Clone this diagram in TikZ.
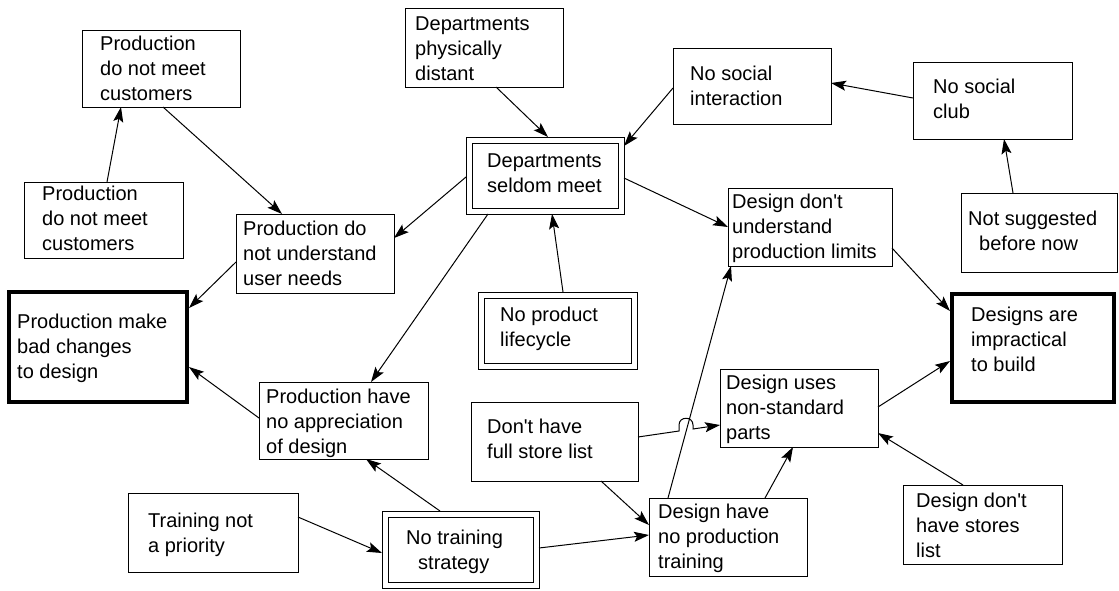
\documentclass[tikz,border=0pt]{standalone}
\usepackage{fontspec}
\setmainfont{Liberation Sans}
\usetikzlibrary{arrows.meta,fit}
% left-aligned multi-line label whose baseline is its first line
\newcommand\mlines[1]{\begin{tabular}[t]{@{}l@{}}#1\end{tabular}}
\newcommand\ap{\textquotesingle}
\begin{document}
\begin{tikzpicture}[x=1pt,y=-1pt,
  box/.style={draw, line width=1pt, inner sep=0pt, outer sep=0pt},
  thickbox/.style={draw, line width=4pt, inner sep=0pt, outer sep=2pt},
  dblbox/.style={draw, line width=1pt, double, double distance=5pt, inner sep=0pt, outer sep=3pt},
  txt/.style={anchor=base west, inner sep=0pt, font=\fontsize{20}{25}\selectfont},
  arr/.style={line width=1pt, -{Stealth[length=15pt,width=10pt,inset=3pt]}}]

\fill[white] (0,0) rectangle (1119,590);
\useasboundingbox (0,0) rectangle (1119,590);

% ---- boxes and their texts ----
\node[box, fit={(82,30)(240,107)}] (pmc1) {};
\node[txt] (pmc1t) at (100,50) {\mlines{Production\\do not meet\\customers}};

\node[box, fit={(24,182)(183,258)}] (pmc2) {};
\node[txt] (pmc2t) at (42,200) {\mlines{Production\\do not meet\\customers}};

\node[box, fit={(236,214)(394,293)}] (pnu) {};
\node[txt] (pnut) at (243,235) {\mlines{Production do\\not understand\\user needs}};

\node[thickbox, fit={(9,292)(187,402)}] (pbad) {};
\node[txt] (pbadt) at (17,328) {\mlines{Production make\\bad changes\\to design}};

\node[box, fit={(259,382)(428,459)}] (papp) {};
\node[txt] (pappt) at (266,403) {\mlines{Production have\\no appreciation\\of design}};

\node[box, fit={(128,493)(298,572)}] (tnp) {};
\node[txt] (tnpt) at (148,527) {\mlines{Training not\\a priority}};

\node[dblbox, fit={(385,514)(536,585)}] (nts) {};
\node[txt] (ntst) at (406,544) {\mlines{No training\\\hspace{12pt}strategy}};

\node[box, fit={(405,8)(563,87)}] (dpd) {};
\node[txt] (dpdt) at (415,30) {\mlines{Departments\\physically\\distant}};

\node[dblbox, fit={(469,140)(621,211)}] (dsm) {};
\node[txt] (dsmt) at (487,167) {\mlines{Departments\\seldom meet}};

\node[box, fit={(673,48)(831,124)}] (nsi) {};
\node[txt] (nsit) at (690,80) {\mlines{No social\\interaction}};

\node[box, fit={(913,62)(1072,139)}] (nsc) {};
\node[txt] (nsct) at (933,93) {\mlines{No social\\club}};

\node[box, fit={(961,193)(1117,272)}] (nsb) {};
\node[txt] (nsbt) at (968,225) {\mlines{Not suggested\\\hspace{11pt}before now}};

\node[box, fit={(728,188)(892,266)}] (ddu) {};
\node[txt] (ddut) at (732,208) {\mlines{Design don\ap t\\understand\\production limits}};

\node[thickbox, fit={(952,294)(1114,402)}] (dit) {};
\node[txt] (ditt) at (971,321) {\mlines{Designs are\\impractical\\to build}};

\node[dblbox, fit={(481,295)(634,366)}] (npl) {};
\node[txt] (nplt) at (500,321) {\mlines{No product\\lifecycle}};

\node[box, fit={(471,402)(638,481)}] (dfs) {};
\node[txt] (dfst) at (487,433) {\mlines{Don\ap t have\\full store list}};

\node[box, fit={(720,369)(878,447)}] (dun) {};
\node[txt] (dunt) at (726,389) {\mlines{Design uses\\non-standard\\parts}};

\node[box, fit={(649,498)(807,576)}] (dnt) {};
\node[txt] (dntt) at (658,518) {\mlines{Design have\\no production\\training}};

\node[box, fit={(903,485)(1062,564)}] (dds) {};
\node[txt] (ddst) at (916,507) {\mlines{Design don\ap t\\have stores\\list}};

% ---- cause-and-effect arrows ----
\draw[arr] (pmc2.north -| 107,0) -- (pmc1.south -| 121,0);
\draw[arr] (pmc1.south -| 163,0) -- (pnu.north -| 282,0);
\draw[arr] (pnu.west |- 0,262) -- (pbad.east |- 0,308);
\draw[arr] (dsm.west |- 0,177) -- (pnu.east |- 0,238);
\draw[arr] (dsm.south -| 488,0) -- (papp.north -| 371,0);
\draw[arr] (npl.north -| 563,0) -- (dsm.south -| 552,0);
\draw[arr] (dpd.south -| 496,0) -- (dsm.north -| 548,0);
\draw[arr] (nsi.west |- 0,88) -- (dsm.east |- 0,146);
\draw[arr] (nsc.west |- 0,98) -- (nsi.east |- 0,83);
\draw[arr] (nsb.north -| 1013,0) -- (nsc.south -| 1004,0);
\draw[arr] (dsm.east |- 0,178) -- (ddu.west |- 0,227);
\draw[arr] (ddu.east |- 0,248) -- (dit.west |- 0,311);
\draw[arr] (dun.east |- 0,407) -- (dit.west |- 0,361);
\draw[arr] (dds.north -| 963,0) -- (dun.east |- 0,433);
\draw[arr] (dnt.north -| 765,0) -- (dun.south -| 793,0);
\draw[arr] (dnt.north -| 668,0) -- (ddu.south -| 731,0);
% line hop where this connector crosses the one above
\coordinate (hopL) at (679,431);
\coordinate (hopR) at (693,429);
\draw[arr] (dfs.east |- 0,437) -- (hopL) -- (679,425)
  .. controls (679,416) and (693,416) .. (693,425) -- (hopR) -- (dun.west |- 0,425);
\draw[arr] (dfs.south -| 601,0) -- (dnt.west |- 0,525);
\draw[arr] (nts.east |- 0,548) -- (dnt.west |- 0,535);
\draw[arr] (tnp.east |- 0,517) -- (nts.west |- 0,553);
\draw[arr] (nts.north -| 440,0) -- (papp.south -| 366,0);
\draw[arr] (papp.west |- 0,418) -- (pbad.east |- 0,367);
\end{tikzpicture}
\end{document}
